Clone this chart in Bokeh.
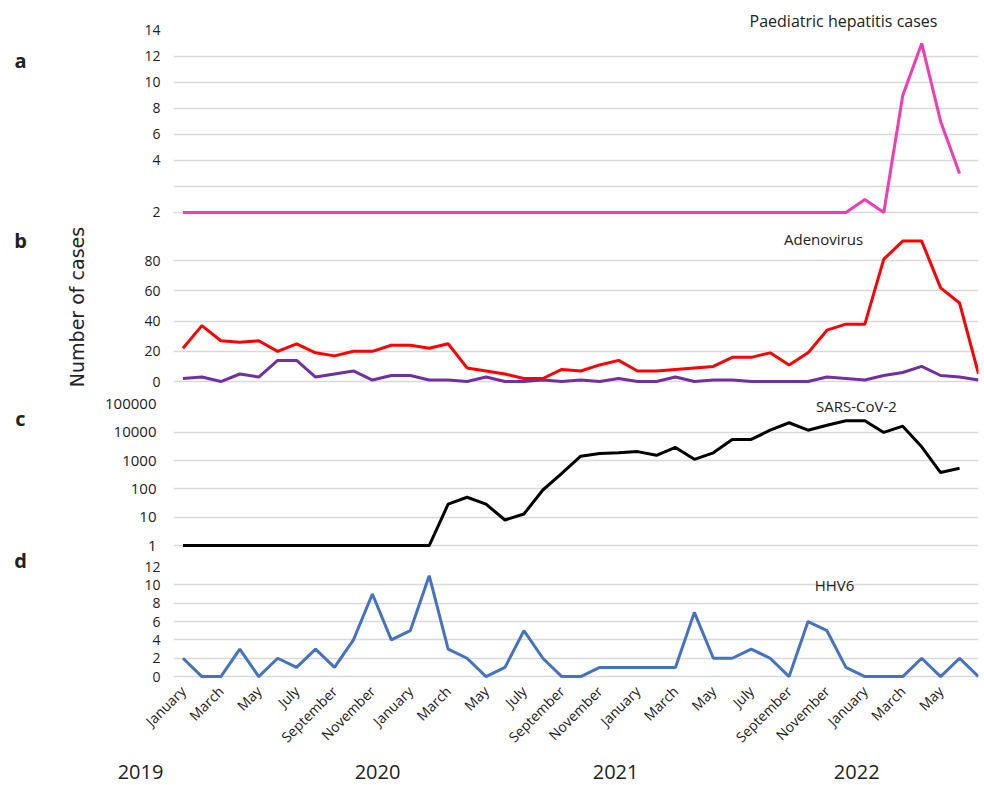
import math
from bokeh.plotting import figure
from bokeh.layouts import column, row
from bokeh.models import Range1d, FixedTicker, Label, NumeralTickFormatter
from bokeh.embed import file_html
from bokeh.resources import INLINE

# ---------------- data ----------------
month_labels = ["January", "March", "May", "July", "September", "November",
                "January", "March", "May", "July", "September", "November",
                "January", "March", "May", "July", "September", "November",
                "January", "March", "May"]
years = ["2019", "2020", "2021", "2022"]
panel_letters = ["a", "b", "c", "d"]

hepatitis = [0, 0, 0, 0, 0, 0, 0, 0, 0, 0,
             0, 0, 0, 0, 0, 0, 0, 0, 0, 0,
             0, 0, 0, 0, 0, 0, 0, 0, 0, 0,
             0, 0, 0, 0, 0, 0, 1, 0, 9, 13,
             7, 3]

adenovirus = [22, 37, 27, 26, 27, 20, 25, 19, 17, 20,
              20, 24, 24, 22, 25, 9, 7, 5, 2, 2,
              8, 7, 11, 14, 7, 7, 8, 9, 10, 16,
              16, 19, 11, 19, 34, 38, 38, 81, 93, 93,
              62, 52, 5]

adeno_second = [2, 3, 0, 5, 3, 14, 14, 3, 5, 7,
                1, 4, 4, 1, 1, 0, 3, 0, 0, 1,
                0, 1, 0, 2, 0, 0, 3, 0, 1, 1,
                0, 0, 0, 0, 3, 2, 1, 4, 6, 10,
                4, 3, 1]

sars_cov2 = [1, 1, 1, 1, 1, 1, 1, 1, 1, 1,
             1, 1, 1, 1, 29, 51, 29, 8, 13, 92,
             355, 1450, 1800, 1900, 2100, 1550, 2950, 1120, 1900, 5650,
             5650, 12000, 22000, 12000, 18000, 26000, 26000, 10000, 16700, 3100,
             380, 540]

hhv6 = [2, 0, 0, 3, 0, 2, 1, 3, 1, 4,
        9, 4, 5, 11, 3, 2, 0, 1, 5, 2,
        0, 0, 1, 1, 1, 1, 1, 7, 2, 2,
        3, 2, 0, 6, 5, 1, 0, 0, 0, 2,
        0, 2, 0]

# ---------------- layout / styling ----------------
FONT = "Open Sans"
STRIP_W = 40            # left strip holding the panel letters
W = 940                 # width of each panel figure
BL = 133                # left border -> frame starts at x = 173
BR = 2
X0, X1 = -0.5, 42
GRID = "#d9d9d9"
TXT = "#222222"
x_range = Range1d(X0, X1)

H_A, H_B, H_C, H_D, H_Y = 222, 170, 164, 201, 28
PANELS_H = H_A + H_B + H_C + H_D


def make_fig(height, top, bottom, y_range, y_axis_type="linear"):
    p = figure(width=W, height=height, x_range=x_range, y_range=y_range,
               y_axis_type=y_axis_type, output_backend="svg", toolbar_location=None,
               min_border_left=BL, min_border_right=BR, min_border_top=top,
               min_border_bottom=bottom)
    p.outline_line_color = None
    p.xgrid.visible = False
    p.ygrid.grid_line_color = GRID
    p.ygrid.grid_line_width = 1.5
    p.yaxis.axis_line_color = None
    p.yaxis.major_tick_line_color = None
    p.yaxis.minor_tick_line_color = None
    p.yaxis.major_label_standoff = 7
    p.yaxis.major_label_text_font = FONT
    p.yaxis.major_label_text_font_size = "14px"
    p.yaxis.major_label_text_color = TXT
    return p


def add_text(p, text, x, y, size="16px", bold=False, font=FONT,
             x_units="screen", y_units="screen"):
    p.add_layout(Label(x=x, y=y, x_units=x_units, y_units=y_units, text=text,
                       text_font=font, text_font_size=size,
                       text_font_style="bold" if bold else "normal",
                       text_align="center", text_baseline="middle",
                       text_color=TXT))


# ---- panel a ----
pa = make_fig(H_A, 12, 8, Range1d(-0.16, 15.38))
pa.xaxis.visible = False
pa.yaxis.ticker = FixedTicker(ticks=[0, 2, 4, 6, 8, 10, 12, 14])
pa.yaxis.major_label_overrides = {0: "2", 2: ""}
pa.ygrid.ticker = FixedTicker(ticks=[0, 2, 4, 6, 8, 10, 12])
pa.line(list(range(len(hepatitis))), hepatitis, line_color="#f23cb6", line_width=3)
add_text(pa, "Paediatric hepatitis cases", 670, 194, "16px")

# ---- panel b ----
pb = make_fig(H_B, 8, 9, Range1d(-1.3, 100))
pb.xaxis.visible = False
pb.yaxis.ticker = FixedTicker(ticks=[0, 20, 40, 60, 80])
pb.ygrid.ticker = FixedTicker(ticks=[0, 20, 40, 60, 80])
pb.yaxis.axis_label = "Number of cases"
pb.yaxis.axis_label_text_font = "DejaVu Sans"
pb.yaxis.axis_label_text_font_size = "19px"
pb.yaxis.axis_label_text_font_style = "normal"
pb.yaxis.axis_label_text_color = TXT
pb.yaxis.axis_label_standoff = 53
pb.line(list(range(len(adeno_second))), adeno_second, line_color="#7030a0", line_width=3)
pb.line(list(range(len(adenovirus))), adenovirus, line_color="#ff0000", line_width=3)
add_text(pb, "Adenovirus", 650, 145, "15px")

# ---- panel c ----
pc = make_fig(H_C, 2, 9, Range1d(0.85, 220000), y_axis_type="log")
pc.xaxis.visible = False
pc.yaxis.ticker = FixedTicker(ticks=[1, 10, 100, 1000, 10000, 100000])
pc.yaxis.formatter = NumeralTickFormatter(format="0")
pc.yaxis.major_label_text_font_size = "15px"
pc.yaxis.major_label_standoff = 11
pc.ygrid.ticker = FixedTicker(ticks=[1, 10, 100, 1000, 10000])
pc.line(list(range(len(sars_cov2))), sars_cov2, line_color="#000000", line_width=3)
add_text(pc, "SARS-CoV-2", 683, 142, "15px")

# ---- panel d ----
pd_ = make_fig(H_D, 10, 79, Range1d(-0.21, 12))
pd_.yaxis.ticker = FixedTicker(ticks=[0, 2, 4, 6, 8, 10, 12])
pd_.ygrid.ticker = FixedTicker(ticks=[0, 2, 4, 6, 8, 10])
pd_.xaxis.ticker = FixedTicker(ticks=[2 * i for i in range(len(month_labels))])
pd_.xaxis.major_label_overrides = {2 * i: m for i, m in enumerate(month_labels)}
pd_.xaxis.major_label_orientation = math.pi / 4
pd_.xaxis.axis_line_color = None
pd_.xaxis.major_tick_line_color = None
pd_.xaxis.minor_tick_line_color = None
pd_.xaxis.major_label_text_font = FONT
pd_.xaxis.major_label_text_font_size = "14px"
pd_.xaxis.major_label_text_color = TXT
pd_.xaxis.major_label_standoff = 4
pd_.line(list(range(len(hhv6))), hhv6, line_color="#4472c4", line_width=3)
add_text(pd_, "HHV6", 661, 94, "15px")

# ---- left strip with panel letters ----
ps = figure(width=STRIP_W, height=PANELS_H, x_range=Range1d(0, STRIP_W),
            y_range=Range1d(PANELS_H, 0), output_backend="svg", toolbar_location=None,
            min_border=0, x_axis_location=None, y_axis_location=None)
ps.outline_line_color = None
ps.grid.visible = False
letter_y = [60, 240, 418, 560]
for letter, yy in zip(panel_letters, letter_y):
    add_text(ps, letter, 20, yy, "20px", bold=True, x_units="data", y_units="data")

# ---- year row: the month axis extended over the whole page width ----
px_per = (W - BL - BR) / (X1 - X0)
py = figure(width=STRIP_W + W, height=H_Y,
            x_range=Range1d(X0 - (STRIP_W + BL) / px_per, X1 + BR / px_per),
            y_range=Range1d(0, 1), output_backend="svg", toolbar_location=None,
            min_border=0, x_axis_location=None, y_axis_location=None)
py.outline_line_color = None
py.grid.visible = False
year_pos = [-2.24, 10.27, 22.84, 35.57]
for yr, xx in zip(years, year_pos):
    add_text(py, yr, xx, 0.5, "20px", x_units="data", y_units="data")

layout = column(row(ps, column(pa, pb, pc, pd_, spacing=0), spacing=0), py, spacing=0)
open("out.html", "w").write(file_html(layout, INLINE))
